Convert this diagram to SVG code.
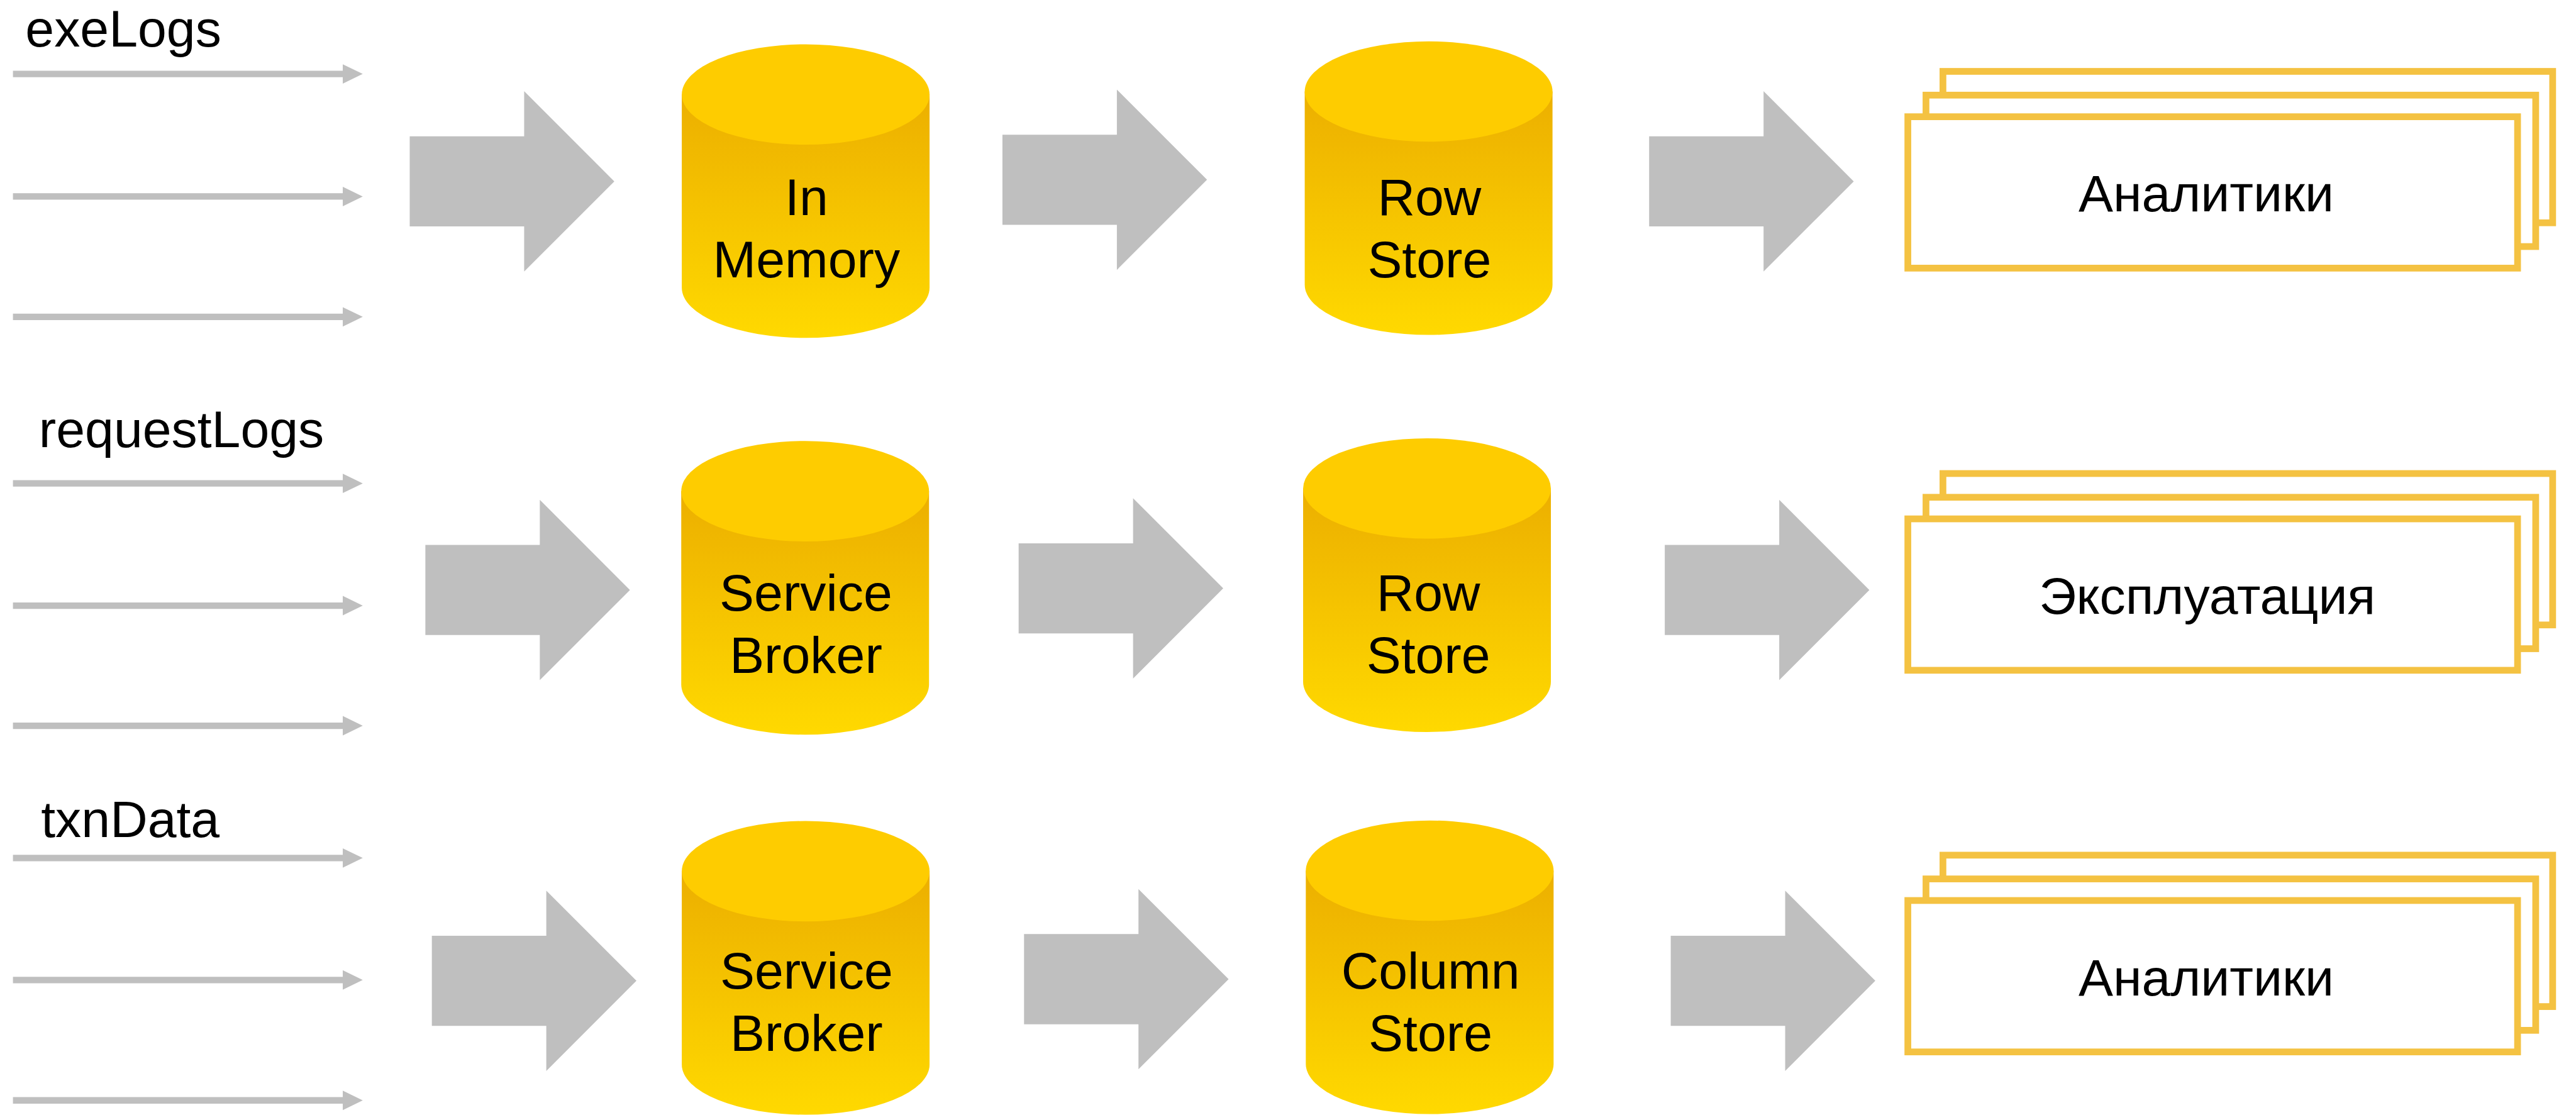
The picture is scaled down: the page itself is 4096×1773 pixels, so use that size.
<svg xmlns="http://www.w3.org/2000/svg" xmlns:xlink="http://www.w3.org/1999/xlink" width="4096" height="1773" viewBox="0 0 4096 1773">
<style>
.lbl{font-family:"Liberation Sans",Arial,"Noto Sans",sans-serif;font-size:96px;fill:#000}
.mid{text-anchor:middle}
.ga{fill:#BFBFBF}
.card{fill:#FFFFFF;stroke:#F4C242;stroke-width:12.5}
</style>
<defs>
<linearGradient id="canGrad" x1="0" y1="0" x2="0" y2="1">
<stop offset="0" stop-color="#ECAF00"/>
<stop offset="1" stop-color="#FFD900"/>
</linearGradient>
<path id="sa" d="M24,-6 H635 V-18 L672,0 L635,18 V6 H24 Z"/>
<path id="ba" d="M0,-83.5 H212 V-167 L379,0 L212,167 V83.5 H0 Z"/>
<g id="can">
<path d="M-229.5,93 V451 A229.5,93 0 0 0 229.5,451 V93 Z" fill="url(#canGrad)"/>
<ellipse cx="0" cy="93" rx="229.5" ry="93" fill="#FECC00"/>
</g>
<g id="stack">
<rect class="card" x="71.25" y="-77.75" width="1129.5" height="280.5"/>
<rect class="card" x="39.85" y="-33.75" width="1129.5" height="280.5"/>
<rect class="card" x="6.25" y="6.25" width="1129.5" height="280.5"/>
</g>
</defs>
<g transform="scale(0.85834)">
<g id="connectors">
<g class="ga">
<use xlink:href="#sa" href="#sa" y="137"/>
<use xlink:href="#sa" href="#sa" y="364"/>
<use xlink:href="#sa" href="#sa" y="587"/>
<use xlink:href="#sa" href="#sa" y="895.5"/>
<use xlink:href="#sa" href="#sa" y="1122"/>
<use xlink:href="#sa" href="#sa" y="1344.5"/>
<use xlink:href="#sa" href="#sa" y="1589.5"/>
<use xlink:href="#sa" href="#sa" y="1815.5"/>
<use xlink:href="#sa" href="#sa" y="2038.5"/>
<use xlink:href="#ba" href="#ba" x="759" y="336"/>
<use xlink:href="#ba" href="#ba" x="1857" y="333"/>
<use xlink:href="#ba" href="#ba" x="3055" y="336"/>
<use xlink:href="#ba" href="#ba" x="788" y="1093"/>
<use xlink:href="#ba" href="#ba" x="1887" y="1090"/>
<use xlink:href="#ba" href="#ba" x="3084" y="1093"/>
<use xlink:href="#ba" href="#ba" x="800" y="1817"/>
<use xlink:href="#ba" href="#ba" x="1897" y="1814"/>
<use xlink:href="#ba" href="#ba" x="3095" y="1817"/>
</g>
</g>
<g id="src-exeLogs"><text class="lbl" x="47" y="86">exeLogs</text></g>
<g id="src-requestLogs"><text class="lbl" x="72" y="828">requestLogs</text></g>
<g id="src-txnData"><text class="lbl" x="76" y="1551">txnData</text></g>
<g id="in-memory">
<use xlink:href="#can" href="#can" x="1492.5" y="82"/>
<text class="lbl mid" x="1494" y="399">In</text>
<text class="lbl mid" x="1494" y="514">Memory</text>
</g>
<g id="row-store-1">
<use xlink:href="#can" href="#can" x="2646.5" y="76.5"/>
<text class="lbl mid" x="2648" y="399">Row</text>
<text class="lbl mid" x="2648" y="514">Store</text>
</g>
<g id="service-broker-1">
<use xlink:href="#can" href="#can" x="1491.5" y="817"/>
<text class="lbl mid" x="1493" y="1131">Service</text>
<text class="lbl mid" x="1493" y="1246.5">Broker</text>
</g>
<g id="row-store-2">
<use xlink:href="#can" href="#can" x="2643.5" y="812"/>
<text class="lbl mid" x="2646" y="1131">Row</text>
<text class="lbl mid" x="2646" y="1246.5">Store</text>
</g>
<g id="service-broker-2">
<use xlink:href="#can" href="#can" x="1492.5" y="1521"/>
<text class="lbl mid" x="1494" y="1832">Service</text>
<text class="lbl mid" x="1494" y="1947">Broker</text>
</g>
<g id="column-store">
<use xlink:href="#can" href="#can" x="2648.5" y="1520"/>
<text class="lbl mid" x="2650" y="1832">Column</text>
<text class="lbl mid" x="2650" y="1947">Store</text>
</g>
<g id="analytics-1">
<use xlink:href="#stack" href="#stack" x="3528" y="210"/>
<text class="lbl mid" x="4087" y="392">Аналитики</text>
</g>
<g id="operations">
<use xlink:href="#stack" href="#stack" x="3528" y="955"/>
<text class="lbl mid" x="4089" y="1137.5">Эксплуатация</text>
</g>
<g id="analytics-2">
<use xlink:href="#stack" href="#stack" x="3528" y="1662"/>
<text class="lbl mid" x="4087" y="1844">Аналитики</text>
</g>
</g>
</svg>
